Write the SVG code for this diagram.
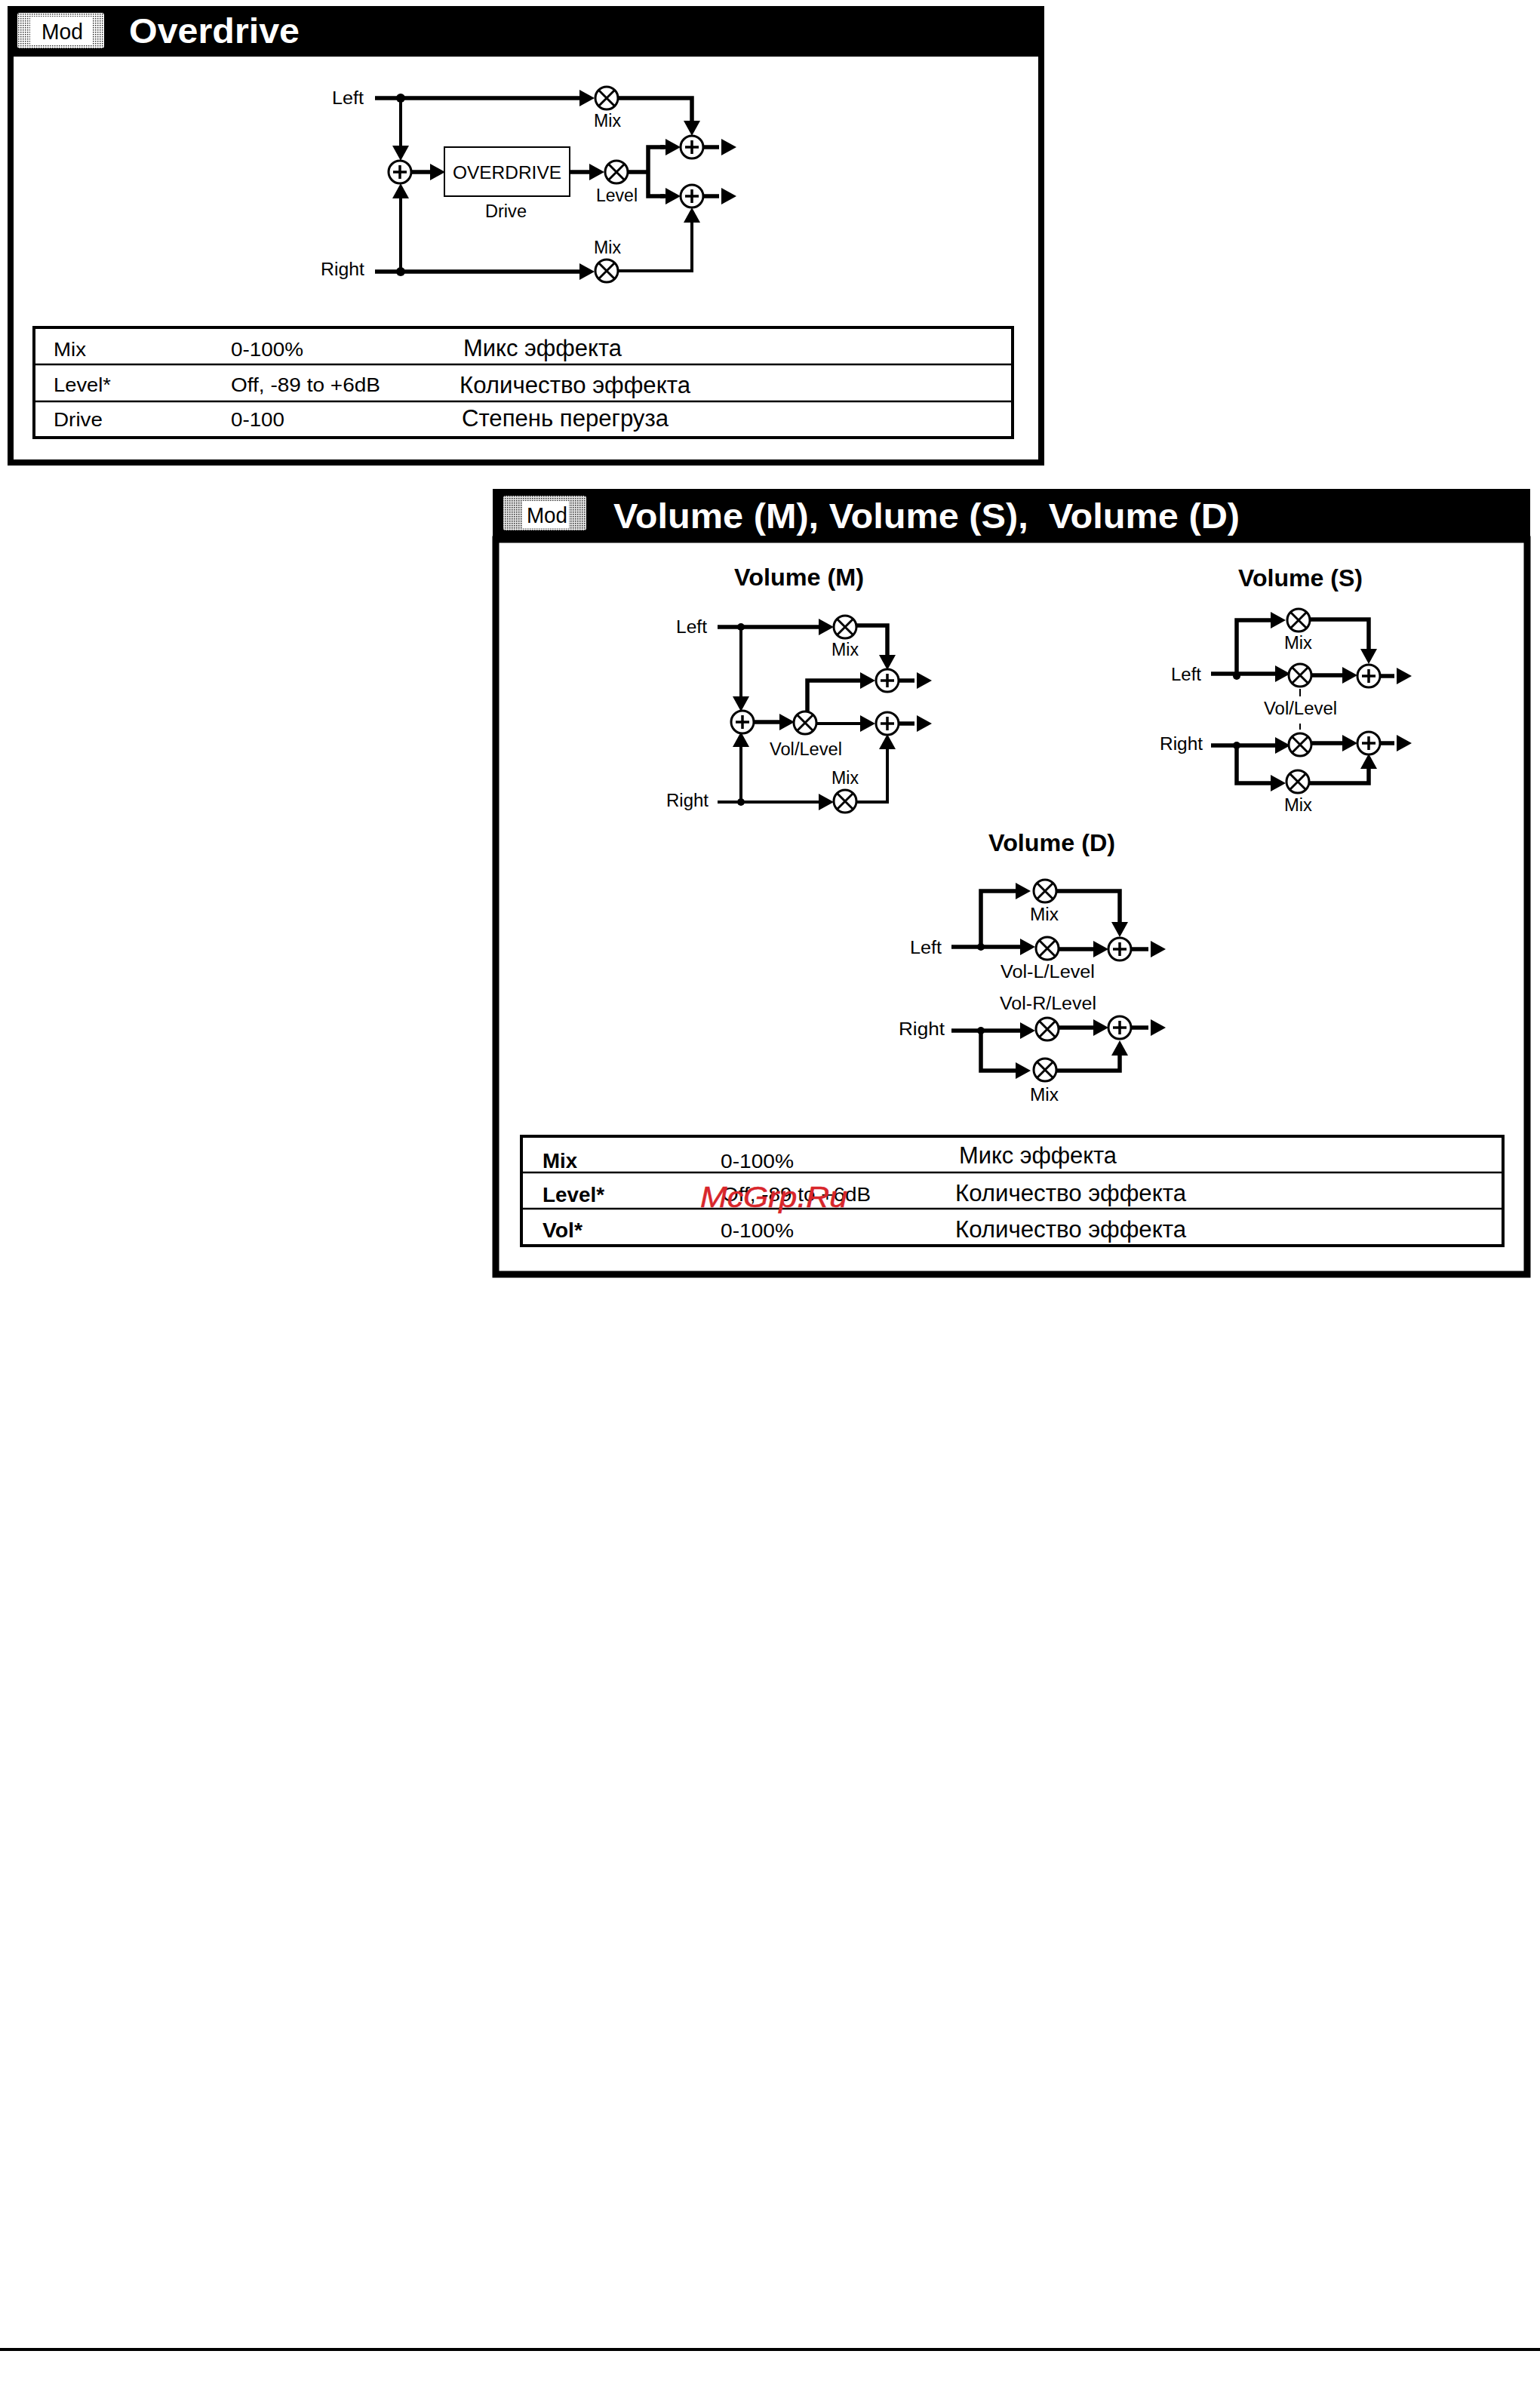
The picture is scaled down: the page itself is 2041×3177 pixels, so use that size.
<svg xmlns="http://www.w3.org/2000/svg" width="2041" height="3177" viewBox="0 0 2041 3177">
<style>
text{font-family:"Liberation Sans",Arial,sans-serif;fill:#000}
.l{font-size:23px}
.t{font-size:25px}
.r{font-size:31px}
.h{font-size:32px;font-weight:bold}
.b{font-size:27px;font-weight:bold}
.ttl{font-size:47px;font-weight:bold;fill:#fff;white-space:pre}
.mod{font-size:30px}
.c{fill:none;stroke:#000;stroke-width:5.5;stroke-linejoin:miter}
.a{marker-end:url(#ar)}
.o{marker-end:url(#ao)}
.thin{stroke-width:4}
.n{fill:#fff;stroke:#000;stroke-width:3}
.x{fill:none;stroke:#000;stroke-width:3}
.p{fill:none;stroke:#000;stroke-width:3.5}
.rule{stroke:#000;stroke-width:2.5;fill:none}
.frame{fill:#000}
.tb{fill:none;stroke:#000;stroke-width:4}
.bx{fill:#fff;stroke:#000;stroke-width:2}
</style>
<defs>
<marker id="ar" markerUnits="userSpaceOnUse" markerWidth="22" markerHeight="22" refX="0" refY="11" orient="auto"><polygon points="0,0 20,11 0,22" fill="#000"/></marker>
<marker id="ao" markerUnits="userSpaceOnUse" markerWidth="26" markerHeight="22" refX="-3" refY="11" orient="auto"><polygon points="0,0 20,11 0,22" fill="#000"/></marker>
<pattern id="st" width="3" height="3" patternUnits="userSpaceOnUse"><rect width="3" height="3" fill="#fff"/><rect width="1.5" height="1.5" fill="#333"/></pattern>
<pattern id="st2" width="3" height="3" patternUnits="userSpaceOnUse"><rect width="3" height="3" fill="#e4e4e4"/><rect width="1.5" height="1.5" fill="#333"/></pattern>
<g id="mul"><circle r="15" class="n"/><path class="x" d="M-10.5-10.5L10.5 10.5M-10.5 10.5L10.5-10.5"/></g>
<g id="add"><circle r="15" class="n"/><path class="p" d="M-9 0H9M0-9V9"/></g>
</defs>
<rect width="2041" height="3177" fill="#fff"/>

<g id="panel-overdrive">
<rect x="14" y="71" width="1366" height="542" fill="#fff" stroke="#000" stroke-width="8"/>
<rect class="frame" x="10" y="8" width="1374" height="67"/>
<rect x="23" y="17" width="115" height="47" rx="3" fill="url(#st)"/>
<rect x="40" y="22" width="82" height="37" fill="#fff"/>
<text class="mod" x="55" y="52" textLength="55" lengthAdjust="spacingAndGlyphs">Mod</text>
<text class="ttl" x="171" y="57" textLength="226" lengthAdjust="spacingAndGlyphs">Overdrive</text>
</g>

<g id="panel-volume">
<rect x="657" y="715" width="1367" height="974" fill="#fff" stroke="#000" stroke-width="9"/>
<rect class="frame" x="653" y="648" width="1375" height="71"/>
<rect x="667" y="657" width="110" height="46" rx="3" fill="url(#st2)"/>
<rect x="692" y="664" width="62" height="36" fill="#fff"/>
<text class="mod" x="698" y="693" textLength="54" lengthAdjust="spacingAndGlyphs">Mod</text>
<text class="ttl" x="813" y="700" textLength="830" lengthAdjust="spacingAndGlyphs">Volume (M), Volume (S),  Volume (D)</text>
</g>

<g id="connectors">
<g id="conn-overdrive">
<path class="c a" d="M497 130H768"/>
<path class="c thin a" d="M531 130V193"/>
<path class="c a" d="M497 360H768"/>
<path class="c thin a" d="M531 360V263"/>
<path class="c a" d="M546 228H570"/>
<path class="c a" d="M755 228H781"/>
<path class="c a" d="M819 130H917V160"/>
<path class="c thin a" d="M819 359H917V295"/>
<path class="c" d="M832 228H859"/>
<path class="c" d="M881 195H859V260H881"/>
<path class="c a" d="M875 195H882"/>
<path class="c a" d="M875 260H882"/>
<path class="c o" d="M932 195H953"/>
<path class="c o" d="M932 260H953"/>
<circle cx="531" cy="130" r="6"/><circle cx="531" cy="360" r="6"/>
</g>
<g id="conn-volume-m">
<path class="c a" d="M951 831H1085"/>
<path class="c thin a" d="M982 831V923"/>
<path class="c thin a" d="M951 1063H1085"/>
<path class="c thin a" d="M982 1063V990"/>
<path class="c a" d="M1000 957H1033"/>
<path class="c a" d="M1135 829H1176V868"/>
<path class="c a" d="M1070 945V902H1140"/>
<path class="c thin a" d="M1082 959H1140"/>
<path class="c thin a" d="M1135 1063H1176V993"/>
<path class="c o" d="M1191 902H1212"/>
<path class="c o" d="M1191 959H1212"/>
<circle cx="982" cy="831" r="5"/><circle cx="982" cy="1063" r="5"/>
</g>
<g id="conn-volume-s">
<path class="c a" d="M1639 893V822H1684"/>
<path class="c a" d="M1605 893H1690"/>
<path class="c a" d="M1739 895H1779"/>
<path class="c a" d="M1736 821H1814V860"/>
<path class="c o" d="M1829 896H1848"/>
<path class="c a" d="M1605 988H1690"/>
<path class="c a" d="M1739 985H1779"/>
<path class="c o" d="M1829 985H1848"/>
<path class="c a" d="M1639 988V1038H1684"/>
<path class="c a" d="M1735 1038H1814V1019"/>
<path class="rule" style="stroke-width:2" d="M1723 913V923M1723 959V967"/>
<circle cx="1639" cy="896" r="5"/><circle cx="1639" cy="988" r="5"/>
</g>
<g id="conn-volume-d">
<path class="c a" d="M1300 1255V1181H1346"/>
<path class="c a" d="M1261 1255H1352"/>
<path class="c a" d="M1402 1258H1449"/>
<path class="c a" d="M1400 1181H1484V1222"/>
<path class="c o" d="M1499 1258H1522"/>
<path class="c a" d="M1261 1366H1352"/>
<path class="c a" d="M1402 1362H1449"/>
<path class="c o" d="M1499 1362H1522"/>
<path class="c a" d="M1300 1366V1419H1346"/>
<path class="c a" d="M1400 1419H1484V1399"/>
<circle cx="1300" cy="1255" r="5"/><circle cx="1300" cy="1366" r="5"/>
</g>
</g>

<g id="overdrive-nodes">
<g id="od-left"><text class="l" x="440" y="138" textLength="42" lengthAdjust="spacingAndGlyphs">Left</text></g>
<g id="od-right"><text class="l" x="425" y="365" textLength="58" lengthAdjust="spacingAndGlyphs">Right</text></g>
<g id="od-mix1"><use href="#mul" x="804" y="130"/><text class="l" x="787" y="168" textLength="36" lengthAdjust="spacingAndGlyphs">Mix</text></g>
<g id="od-mix2"><use href="#mul" x="804" y="359"/><text class="l" x="787" y="336" textLength="36" lengthAdjust="spacingAndGlyphs">Mix</text></g>
<g id="od-insum"><use href="#add" x="530" y="228"/></g>
<g id="od-box"><rect class="bx" x="589" y="195" width="166" height="65"/><text class="l" x="600" y="237" textLength="144" lengthAdjust="spacingAndGlyphs">OVERDRIVE</text><text class="l" x="643" y="288" textLength="55" lengthAdjust="spacingAndGlyphs">Drive</text></g>
<g id="od-level"><use href="#mul" x="817" y="228"/><text class="l" x="790" y="267" textLength="55" lengthAdjust="spacingAndGlyphs">Level</text></g>
<g id="od-sum1"><use href="#add" x="917" y="195"/></g>
<g id="od-sum2"><use href="#add" x="917" y="260"/></g>
</g>

<g id="overdrive-table">
<rect class="tb" x="45" y="434" width="1297" height="146"/>
<path class="rule" d="M45 483H1342M45 532H1342"/>
<text class="t" x="71" y="472" textLength="43" lengthAdjust="spacingAndGlyphs">Mix</text>
<text class="t" x="306" y="472" textLength="96" lengthAdjust="spacingAndGlyphs">0-100%</text>
<text class="r" x="614" y="472" textLength="210" lengthAdjust="spacingAndGlyphs">Микс эффекта</text>
<text class="t" x="71" y="519" textLength="76" lengthAdjust="spacingAndGlyphs">Level*</text>
<text class="t" x="306" y="519" textLength="198" lengthAdjust="spacingAndGlyphs">Off, -89 to +6dB</text>
<text class="r" x="609" y="521" textLength="306" lengthAdjust="spacingAndGlyphs">Количество эффекта</text>
<text class="t" x="71" y="565" textLength="65" lengthAdjust="spacingAndGlyphs">Drive</text>
<text class="t" x="306" y="565" textLength="71" lengthAdjust="spacingAndGlyphs">0-100</text>
<text class="r" x="612" y="565" textLength="274" lengthAdjust="spacingAndGlyphs">Степень перегруза</text>
</g>

<g id="volume-m-nodes">
<text class="h" x="973" y="776" textLength="172" lengthAdjust="spacingAndGlyphs">Volume (M)</text>
<g id="vm-left"><text class="l" x="896" y="839" textLength="41" lengthAdjust="spacingAndGlyphs">Left</text></g>
<g id="vm-right"><text class="l" x="883" y="1069" textLength="56" lengthAdjust="spacingAndGlyphs">Right</text></g>
<g id="vm-mix1"><use href="#mul" x="1120" y="831"/><text class="l" x="1102" y="869" textLength="36" lengthAdjust="spacingAndGlyphs">Mix</text></g>
<g id="vm-mix2"><use href="#mul" x="1120" y="1062"/><text class="l" x="1102" y="1039" textLength="36" lengthAdjust="spacingAndGlyphs">Mix</text></g>
<g id="vm-insum"><use href="#add" x="984" y="957"/></g>
<g id="vm-vol"><use href="#mul" x="1067" y="958"/><text class="l" x="1020" y="1001" textLength="96" lengthAdjust="spacingAndGlyphs">Vol/Level</text></g>
<g id="vm-sum1"><use href="#add" x="1176" y="902"/></g>
<g id="vm-sum2"><use href="#add" x="1176" y="959"/></g>
</g>

<g id="volume-s-nodes">
<text class="h" x="1641" y="777" textLength="165" lengthAdjust="spacingAndGlyphs">Volume (S)</text>
<g id="vs-left"><text class="l" x="1552" y="902" textLength="40" lengthAdjust="spacingAndGlyphs">Left</text></g>
<g id="vs-right"><text class="l" x="1537" y="994" textLength="57" lengthAdjust="spacingAndGlyphs">Right</text></g>
<g id="vs-mix1"><use href="#mul" x="1721" y="822"/><text class="l" x="1702" y="860" textLength="37" lengthAdjust="spacingAndGlyphs">Mix</text></g>
<g id="vs-vol1"><use href="#mul" x="1723" y="895"/></g>
<text id="vs-vollabel" class="l" x="1675" y="947" textLength="97" lengthAdjust="spacingAndGlyphs">Vol/Level</text>
<g id="vs-vol2"><use href="#mul" x="1723" y="987"/></g>
<g id="vs-mix2"><use href="#mul" x="1720" y="1036"/><text class="l" x="1702" y="1075" textLength="37" lengthAdjust="spacingAndGlyphs">Mix</text></g>
<g id="vs-sum1"><use href="#add" x="1814" y="896"/></g>
<g id="vs-sum2"><use href="#add" x="1814" y="985"/></g>
</g>

<g id="volume-d-nodes">
<text class="h" x="1310" y="1128" textLength="168" lengthAdjust="spacingAndGlyphs">Volume (D)</text>
<g id="vd-left"><text class="l" x="1206" y="1264" textLength="42" lengthAdjust="spacingAndGlyphs">Left</text></g>
<g id="vd-right"><text class="l" x="1191" y="1372" textLength="61" lengthAdjust="spacingAndGlyphs">Right</text></g>
<g id="vd-mix1"><use href="#mul" x="1385" y="1181"/><text class="l" x="1365" y="1220" textLength="38" lengthAdjust="spacingAndGlyphs">Mix</text></g>
<g id="vd-voll"><use href="#mul" x="1388" y="1257"/><text class="l" x="1326" y="1296" textLength="125" lengthAdjust="spacingAndGlyphs">Vol-L/Level</text></g>
<g id="vd-volr"><use href="#mul" x="1388" y="1364"/><text class="l" x="1325" y="1338" textLength="128" lengthAdjust="spacingAndGlyphs">Vol-R/Level</text></g>
<g id="vd-mix2"><use href="#mul" x="1385" y="1418"/><text class="l" x="1365" y="1459" textLength="38" lengthAdjust="spacingAndGlyphs">Mix</text></g>
<g id="vd-sum1"><use href="#add" x="1484" y="1258"/></g>
<g id="vd-sum2"><use href="#add" x="1484" y="1362"/></g>
</g>

<g id="volume-table">
<rect class="tb" x="691" y="1506" width="1301" height="145"/>
<path class="rule" d="M691 1554H1992M691 1602H1992"/>
<text class="b" x="719" y="1548" textLength="46" lengthAdjust="spacingAndGlyphs">Mix</text>
<text class="t" x="955" y="1548" textLength="97" lengthAdjust="spacingAndGlyphs">0-100%</text>
<text class="r" x="1271" y="1542" textLength="209" lengthAdjust="spacingAndGlyphs">Микс эффекта</text>
<text class="b" x="719" y="1593" textLength="82" lengthAdjust="spacingAndGlyphs">Level*</text>
<text class="t" x="957" y="1592" textLength="197" lengthAdjust="spacingAndGlyphs">Off, -89 to +6dB</text>
<text class="r" x="1266" y="1592" textLength="306" lengthAdjust="spacingAndGlyphs">Количество эффекта</text>
<text class="b" x="719" y="1640" textLength="53" lengthAdjust="spacingAndGlyphs">Vol*</text>
<text class="t" x="955" y="1640" textLength="97" lengthAdjust="spacingAndGlyphs">0-100%</text>
<text class="r" x="1266" y="1640" textLength="306" lengthAdjust="spacingAndGlyphs">Количество эффекта</text>
</g>

<text id="watermark" x="928" y="1600" textLength="195" lengthAdjust="spacingAndGlyphs" style="font-size:38px;font-style:italic;fill:#d8262b;stroke:#d8262b;stroke-width:.5">McGrp.Ru</text>
<rect id="footer-rule" x="0" y="3112" width="2041" height="4" fill="#000"/>
</svg>
